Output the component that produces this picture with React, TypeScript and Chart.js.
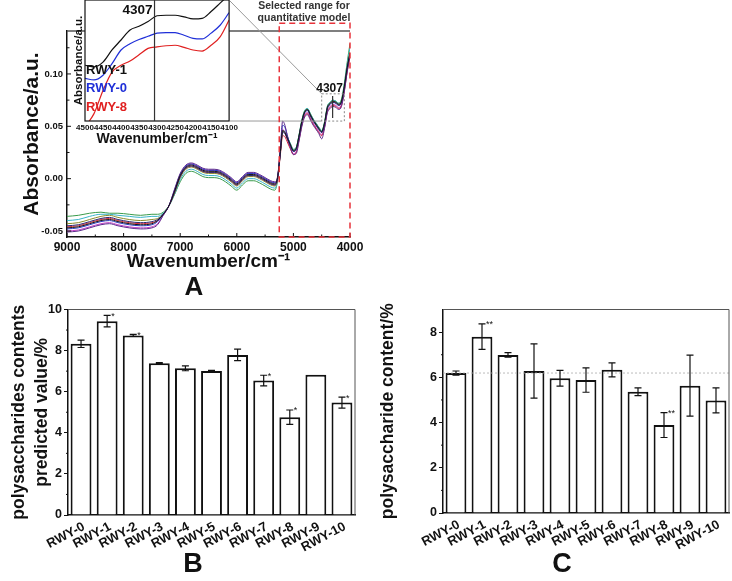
import React, { useEffect, useRef } from 'react';
import { Chart, registerables } from 'chart.js';

Chart.register(...registerables);

const FONT = '"Liberation Sans", Arial, Helvetica, sans-serif';
const INK = '#111111';

// ---------------- Panel A: NIR spectra ----------------
const wavenumbers = [9000, 8800, 8600, 8400, 8250, 8100, 7900, 7700, 7500, 7400, 7300, 7200, 7100, 7000, 6900, 6800, 6700, 6600, 6500, 6400, 6300, 6200, 6100, 6000, 5900, 5800, 5700, 5600, 5500, 5400, 5330, 5280, 5230, 5190, 5150, 5100, 5050, 5000, 4950, 4900, 4850, 4800, 4750, 4700, 4650, 4600, 4550, 4500, 4450, 4400, 4350, 4307, 4250, 4200, 4150, 4100, 4050, 4000];

const spectrumBlack = [-0.047, -0.046, -0.043, -0.040, -0.039, -0.041, -0.043, -0.044, -0.043, -0.040, -0.034, -0.026,
  -0.012, 0.003, 0.011, 0.013, 0.011, 0.008, 0.007, 0.007, 0.006, 0.003, -0.001, -0.005, 0.000, 0.004, 0.004, 0.002, -0.001, -0.004, -0.005,
  0.001, 0.026, 0.046, 0.044, 0.038, 0.032, 0.027, 0.029, 0.041, 0.055, 0.064, 0.066, 0.061, 0.056, 0.052, 0.048, 0.045, 0.053, 0.068, 0.072, 0.074, 0.073, 0.071, 0.074, 0.088, 0.106, 0.120];
const spectrumBlue = [-0.048, -0.047, -0.044, -0.041, -0.040, -0.042, -0.044, -0.045, -0.044, -0.041, -0.034, -0.026,
  -0.011, 0.004, 0.012, 0.014, 0.012, 0.009, 0.008, 0.008, 0.007, 0.004, 0.000, -0.004, 0.001, 0.005, 0.005, 0.003, 0.000, -0.003, -0.004,
  0.001, 0.028, 0.051, 0.049, 0.040, 0.031, 0.026, 0.028, 0.040, 0.054, 0.063, 0.065, 0.060, 0.055, 0.051, 0.047, 0.044, 0.052, 0.067, 0.071, 0.073, 0.072, 0.070, 0.073, 0.087, 0.105, 0.119];
const spectrumRed = [-0.046, -0.045, -0.042, -0.039, -0.038, -0.040, -0.042, -0.043, -0.042, -0.040, -0.034, -0.026,
  -0.013, 0.002, 0.010, 0.012, 0.010, 0.007, 0.006, 0.006, 0.005, 0.002, -0.002, -0.006, -0.001, 0.003, 0.003, 0.001, -0.002, -0.005, -0.006,
  -0.001, 0.023, 0.041, 0.040, 0.034, 0.028, 0.023, 0.025, 0.037, 0.051, 0.060, 0.062, 0.057, 0.052, 0.048, 0.044, 0.041, 0.049, 0.064, 0.068, 0.070, 0.069, 0.067, 0.070, 0.084, 0.102, 0.116];
const spectrumGreen = [-0.036, -0.035, -0.033, -0.032, -0.033, -0.033, -0.034, -0.035, -0.034, -0.034, -0.032, -0.026,
  -0.015, -0.003, 0.005, 0.007, 0.005, 0.002, 0.001, 0.001, 0.000, -0.003, -0.007, -0.011, -0.006, -0.002, -0.002, -0.004, -0.007, -0.010, -0.011,
  -0.002, 0.025, 0.046, 0.045, 0.039, 0.033, 0.028, 0.030, 0.042, 0.056, 0.065, 0.067, 0.062, 0.057, 0.053, 0.049, 0.046, 0.054, 0.069, 0.073, 0.075, 0.074, 0.072, 0.076, 0.091, 0.111, 0.129];
const spectrumMagenta = [-0.050, -0.049, -0.046, -0.043, -0.042, -0.044, -0.046, -0.047, -0.046, -0.043, -0.035, -0.026,
  -0.011, 0.004, 0.012, 0.014, 0.012, 0.009, 0.008, 0.008, 0.007, 0.004, 0.000, -0.004, 0.001, 0.005, 0.005, 0.003, 0.000, -0.003, -0.004,
  0.000, 0.026, 0.047, 0.044, 0.036, 0.029, 0.024, 0.026, 0.038, 0.052, 0.061, 0.063, 0.058, 0.053, 0.049, 0.045, 0.042, 0.050, 0.065, 0.069, 0.071, 0.070, 0.068, 0.071, 0.085, 0.103, 0.118];
const spectrumCyan = [-0.040, -0.039, -0.036, -0.034, -0.034, -0.035, -0.036, -0.037, -0.036, -0.036, -0.033, -0.026,
  -0.015, -0.001, 0.007, 0.009, 0.007, 0.004, 0.003, 0.003, 0.002, -0.001, -0.005, -0.009, -0.004, 0.000, 0.000, -0.002, -0.005, -0.008, -0.009,
  -0.001, 0.025, 0.045, 0.045, 0.039, 0.033, 0.028, 0.030, 0.042, 0.056, 0.065, 0.067, 0.062, 0.057, 0.053, 0.049, 0.046, 0.054, 0.069, 0.073, 0.075, 0.074, 0.072, 0.075, 0.090, 0.109, 0.125];
const spectrumPurple = [-0.051, -0.050, -0.047, -0.044, -0.043, -0.045, -0.047, -0.048, -0.047, -0.044, -0.035, -0.026,
  -0.010, 0.005, 0.013, 0.015, 0.013, 0.010, 0.009, 0.009, 0.008, 0.005, 0.001, -0.003, 0.002, 0.006, 0.006, 0.004, 0.001, -0.002, -0.003,
  0.002, 0.029, 0.055, 0.051, 0.039, 0.029, 0.023, 0.024, 0.036, 0.050, 0.059, 0.061, 0.056, 0.051, 0.047, 0.043, 0.038, 0.048, 0.063, 0.067, 0.069, 0.068, 0.066, 0.069, 0.083, 0.102, 0.118];
const spectrumOlive = [-0.043, -0.042, -0.039, -0.036, -0.035, -0.037, -0.039, -0.040, -0.039, -0.038, -0.034, -0.026,
  -0.014, 0.001, 0.009, 0.011, 0.009, 0.006, 0.005, 0.005, 0.004, 0.001, -0.003, -0.007, -0.002, 0.002, 0.002, 0.000, -0.003, -0.006, -0.007,
  0.000, 0.026, 0.045, 0.044, 0.038, 0.032, 0.027, 0.029, 0.041, 0.055, 0.064, 0.066, 0.061, 0.056, 0.052, 0.048, 0.045, 0.053, 0.068, 0.072, 0.074, 0.073, 0.071, 0.074, 0.088, 0.106, 0.121];
const spectrumNavy = [-0.045, -0.044, -0.041, -0.038, -0.037, -0.039, -0.041, -0.042, -0.041, -0.039, -0.034, -0.026,
  -0.013, 0.002, 0.010, 0.012, 0.010, 0.007, 0.006, 0.006, 0.005, 0.002, -0.002, -0.006, -0.001, 0.003, 0.003, 0.001, -0.002, -0.005, -0.006,
  0.000, 0.025, 0.044, 0.043, 0.037, 0.031, 0.026, 0.028, 0.040, 0.054, 0.063, 0.065, 0.060, 0.055, 0.051, 0.047, 0.044, 0.052, 0.067, 0.071, 0.073, 0.072, 0.070, 0.073, 0.087, 0.105, 0.120];

const spectraList = [spectrumBlack, spectrumPurple, spectrumNavy, spectrumBlue, spectrumRed, spectrumMagenta, spectrumOlive, spectrumCyan, spectrumGreen];
const spectraColors = ['#151515', '#5b2a8c', '#2a2a70', '#2b3cc8', '#d42a3a', '#c43cc4', '#8a8a2a', '#38b4c8', '#3a9a4a'];

const xTicksA = [9000, 8000, 7000, 6000, 5000, 4000];
const xMinorA = [8500, 7500, 6500, 5500, 4500];
const yTicksA = [-0.05, 0, 0.05, 0.1];
const yMinorA = [-0.025, 0.025, 0.075, 0.125];
const selectedRange = [5250, 4000];
const zoomWN = [4500, 4100];
const zoomAbs = [0.055, 0.081];
const markerWN = 4307;

// inset (zoomed region)
const insetWN = [4500, 4475, 4450, 4425, 4400, 4375, 4350, 4325, 4300, 4275, 4250, 4225, 4200, 4175, 4150, 4125, 4100];
const insetRWY1 = [0.0656, 0.0653, 0.0662, 0.0685, 0.0704, 0.0723, 0.0730, 0.0739, 0.0750, 0.0751, 0.0751, 0.0748, 0.0744, 0.0745, 0.0758, 0.0774, 0.0790];
const insetRWY0 = [0.0631, 0.0628, 0.0637, 0.0659, 0.0685, 0.0697, 0.0705, 0.0711, 0.0717, 0.0718, 0.0718, 0.0713, 0.0707, 0.0706, 0.0717, 0.0732, 0.0756];
const insetRWY8 = [0.0539, 0.0564, 0.0608, 0.0643, 0.0656, 0.0664, 0.0676, 0.0688, 0.0691, 0.0693, 0.0694, 0.0690, 0.0685, 0.0683, 0.0694, 0.0710, 0.0742];
const insetLabels = ['RWY-1', 'RWY-0', 'RWY-8'];
const insetColors = ['#111111', '#1f2fd8', '#e02020'];
const insetTicks = [4500, 4450, 4400, 4350, 4300, 4250, 4200, 4150, 4100];

// ---------------- Panels B & C ----------------
const categories = ['RWY-0', 'RWY-1', 'RWY-2', 'RWY-3', 'RWY-4', 'RWY-5', 'RWY-6', 'RWY-7', 'RWY-8', 'RWY-9', 'RWY-10'];
const predictedValues = [8.33, 9.43, 8.74, 7.38, 7.14, 7.01, 7.79, 6.54, 4.76, 6.83, 5.47];
const predictedErrors = [0.18, 0.28, 0.05, 0.03, 0.12, 0.03, 0.28, 0.26, 0.35, 0, 0.27];
const predictedMarks = ['', '*', '*', '', '', '', '', '*', '*', '', '*'];
const measuredValues = [6.19, 7.80, 6.99, 6.28, 5.96, 5.88, 6.33, 5.36, 3.89, 5.63, 4.98];
const measuredErrors = [0.09, 0.56, 0.1, 1.2, 0.35, 0.54, 0.31, 0.17, 0.55, 1.35, 0.55];
const measuredMarks = ['', '**', '', '', '', '', '', '', '**', '', ''];

const INSET = { right: 230, top: 0, bottom: 121 };

const bold = (size: number, lineHeight?: any) => ({ family: FONT, size, weight: 'bold' as const, lineHeight: lineHeight ?? 1.2 });

const panelAPlugin = {
  id: 'panelA',
  afterDraw(chart: any) {
    const { ctx, chartArea: ca, scales } = chart;
    const x = scales.x, y = scales.y;
    ctx.save();
    ctx.strokeStyle = '#555';
    ctx.lineWidth = 1.5;
    ctx.beginPath();
    ctx.moveTo(ca.left, ca.top);
    ctx.lineTo(ca.right, ca.top);
    ctx.stroke();

    ctx.strokeStyle = INK;
    ctx.lineWidth = 1;
    ctx.beginPath();
    xTicksA.forEach(v => { const p = x.getPixelForValue(v); ctx.moveTo(p, ca.bottom); ctx.lineTo(p, ca.bottom - 4); });
    xMinorA.forEach(v => { const p = x.getPixelForValue(v); ctx.moveTo(p, ca.bottom); ctx.lineTo(p, ca.bottom - 2.5); });
    yTicksA.forEach(v => { const p = y.getPixelForValue(v); ctx.moveTo(ca.left, p); ctx.lineTo(ca.left + 4, p); });
    yMinorA.forEach(v => { const p = y.getPixelForValue(v); ctx.moveTo(ca.left, p); ctx.lineTo(ca.left + 2.5, p); });
    ctx.stroke();

    const bx1 = x.getPixelForValue(zoomWN[0]);
    const bx2 = x.getPixelForValue(zoomWN[1]);
    const by1 = y.getPixelForValue(zoomAbs[1]);
    const by2 = y.getPixelForValue(zoomAbs[0]);
    ctx.setLineDash([2, 2]);
    ctx.strokeStyle = '#888';
    ctx.lineWidth = 1;
    ctx.strokeRect(bx1, by1, bx2 - bx1, by2 - by1);
    ctx.setLineDash([]);

    ctx.strokeStyle = '#9a9a9a';
    ctx.beginPath();
    ctx.moveTo(INSET.right, INSET.top + 1);
    ctx.lineTo(bx1, by1);
    ctx.moveTo(INSET.right, INSET.bottom);
    ctx.lineTo(bx1, by2);
    ctx.stroke();

    const mp = x.getPixelForValue(markerWN);
    ctx.strokeStyle = '#333';
    ctx.lineWidth = 1.2;
    ctx.beginPath();
    ctx.moveTo(mp, y.getPixelForValue(0.058));
    ctx.lineTo(mp, y.getPixelForValue(0.079));
    ctx.stroke();
    ctx.font = `bold 12px ${FONT}`;
    ctx.fillStyle = INK;
    ctx.textAlign = 'center';
    ctx.textBaseline = 'middle';
    ctx.fillText(String(markerWN), mp - 3, by1 - 5);

    const rx1 = x.getPixelForValue(selectedRange[0]);
    const rx2 = x.getPixelForValue(selectedRange[1]);
    const ry1 = y.getPixelForValue(0.1485);
    ctx.strokeStyle = '#e8333b';
    ctx.lineWidth = 1.5;
    ctx.setLineDash([6, 4]);
    ctx.strokeRect(rx1, ry1, rx2 - rx1, ca.bottom - ry1);
    ctx.setLineDash([]);

    ctx.font = `bold 10.5px ${FONT}`;
    ctx.fillStyle = '#333';
    ctx.fillText('Selected range for', 304, 6);
    ctx.fillText('quantitative model', 304, 18);

    ctx.font = `bold 26px ${FONT}`;
    ctx.fillStyle = INK;
    ctx.fillText('A', 194, 288);
    ctx.restore();
  },
};

const insetPlugin = {
  id: 'inset',
  beforeDraw(chart: any) {
    const { ctx, chartArea: ca } = chart;
    ctx.save();
    ctx.fillStyle = '#ffffff';
    ctx.fillRect(ca.left, ca.top, ca.right - ca.left, ca.bottom - ca.top);
    ctx.restore();
  },
  afterDraw(chart: any) {
    const { ctx, chartArea: ca, scales } = chart;
    ctx.save();
    ctx.strokeStyle = INK;
    ctx.lineWidth = 1.2;
    ctx.strokeRect(ca.left, ca.top, ca.right - ca.left, ca.bottom - ca.top);
    const mp = scales.x.getPixelForValue(markerWN);
    ctx.strokeStyle = '#333';
    ctx.beginPath();
    ctx.moveTo(mp, ca.top);
    ctx.lineTo(mp, ca.bottom);
    ctx.stroke();
    ctx.font = `bold 13.5px ${FONT}`;
    ctx.fillStyle = INK;
    ctx.textAlign = 'right';
    ctx.textBaseline = 'middle';
    ctx.fillText(String(markerWN), mp - 2, 10);
    ctx.textAlign = 'left';
    ctx.font = `bold 13px ${FONT}`;
    const ys = [70, 88, 107];
    insetLabels.forEach((t, i) => {
      ctx.fillStyle = insetColors[i];
      ctx.fillText(t, ca.left + 1, ys[i]);
    });
    ctx.restore();
  },
};

function barPanelPlugin(values: number[], errors: number[], marks: string[], letter: string, letterX: number, refLine: number | null) {
  return {
    id: 'barPanel' + letter,
    afterDatasetsDraw(chart: any) {
      const { ctx, chartArea: ca, scales } = chart;
      const y = scales.y;
      ctx.save();
      if (refLine !== null) {
        const ry = y.getPixelForValue(refLine);
        ctx.strokeStyle = '#aaa';
        ctx.lineWidth = 0.8;
        ctx.setLineDash([2, 2]);
        ctx.beginPath();
        ctx.moveTo(ca.left, ry);
        ctx.lineTo(ca.right, ry);
        ctx.stroke();
        ctx.setLineDash([]);
      }
      const meta = chart.getDatasetMeta(0);
      ctx.strokeStyle = INK;
      ctx.lineWidth = 1.2;
      meta.data.forEach((el: any, i: number) => {
        const e = errors[i];
        const cx = el.x;
        const yt = y.getPixelForValue(values[i] + e);
        const yb = y.getPixelForValue(values[i] - e);
        if (e > 0) {
          ctx.beginPath();
          ctx.moveTo(cx, yt); ctx.lineTo(cx, yb);
          ctx.moveTo(cx - 3.5, yt); ctx.lineTo(cx + 3.5, yt);
          ctx.moveTo(cx - 3.5, yb); ctx.lineTo(cx + 3.5, yb);
          ctx.stroke();
        }
        if (marks[i]) {
          ctx.font = `9px ${FONT}`;
          ctx.fillStyle = INK;
          ctx.textAlign = 'left';
          ctx.textBaseline = 'middle';
          ctx.fillText(marks[i], cx + 4, yt + 1);
        }
      });
      ctx.restore();
    },
    afterDraw(chart: any) {
      const { ctx, chartArea: ca, scales } = chart;
      const y = scales.y;
      ctx.save();
      ctx.strokeStyle = '#555';
      ctx.lineWidth = 1;
      ctx.beginPath();
      ctx.moveTo(ca.left, ca.top);
      ctx.lineTo(ca.right, ca.top);
      ctx.lineTo(ca.right, ca.bottom);
      ctx.stroke();
      ctx.strokeStyle = INK;
      ctx.beginPath();
      for (let v = 1; v < y.max; v += 2) {
        const p = y.getPixelForValue(v);
        ctx.moveTo(ca.left, p);
        ctx.lineTo(ca.left - 2, p);
      }
      ctx.stroke();
      ctx.font = `bold 27px ${FONT}`;
      ctx.fillStyle = INK;
      ctx.textAlign = 'center';
      ctx.textBaseline = 'middle';
      ctx.fillText(letter, letterX, 265);
      ctx.restore();
    },
  };
}

function configA(): any {
  return {
    type: 'line',
    data: {
      datasets: spectraList.map((s, k) => ({
        data: wavenumbers.map((w, i) => ({ x: w, y: s[i] })),
        borderColor: spectraColors[k],
        borderWidth: 1,
        pointRadius: 0,
        fill: false,
        cubicInterpolationMode: 'monotone',
      })),
    },
    options: {
      responsive: false,
      animation: false,
      layout: { padding: { top: 31, right: 22, bottom: 0, left: 0 } },
      plugins: { legend: { display: false }, tooltip: { enabled: false } },
      scales: {
        x: {
          type: 'linear', reverse: true, min: 4000, max: 9000,
          afterFit: (s: any) => { s.height = 63; },
          afterBuildTicks: (s: any) => { s.ticks = xTicksA.map(v => ({ value: v })); },
          grid: { display: true, drawOnChartArea: false, drawTicks: false },
          border: { display: true, color: INK, width: 1.5 },
          ticks: { padding: 3, maxRotation: 0, autoSkip: false, color: INK, font: bold(12), callback: (v: any) => String(v) },
          title: { display: true, text: 'Wavenumber/cm⁻¹', color: INK, font: bold(19), padding: { top: 0, bottom: 27 } },
        },
        y: {
          type: 'linear', min: -0.0557, max: 0.141,
          afterFit: (s: any) => { s.width = 67; },
          afterBuildTicks: (s: any) => { s.ticks = yTicksA.map(v => ({ value: v })); },
          grid: { display: true, drawOnChartArea: false, drawTicks: false },
          border: { display: true, color: INK, width: 1.5 },
          ticks: { padding: 4, color: INK, font: bold(9.5), callback: (v: any) => Number(v).toFixed(2) },
          title: { display: true, text: 'Absorbance/a.u.', color: INK, font: bold(21), padding: { top: 20, bottom: 0 } },
        },
      },
    },
    plugins: [panelAPlugin],
  };
}

function configInset(): any {
  const series = [insetRWY1, insetRWY0, insetRWY8];
  return {
    type: 'line',
    data: {
      datasets: series.map((s, k) => ({
        data: insetWN.map((w, i) => ({ x: w, y: s[i] })),
        borderColor: insetColors[k],
        borderWidth: 1.2,
        pointRadius: 0,
        fill: false,
        cubicInterpolationMode: 'monotone',
      })),
    },
    options: {
      responsive: false,
      animation: false,
      layout: { padding: { top: 0, right: 10, bottom: 0, left: 0 } },
      plugins: { legend: { display: false }, tooltip: { enabled: false } },
      scales: {
        x: {
          type: 'linear', reverse: true, min: 4100, max: 4500,
          afterFit: (s: any) => { s.height = 29; },
          afterBuildTicks: (s: any) => { s.ticks = insetTicks.map(v => ({ value: v })); },
          grid: { display: false, drawTicks: false },
          border: { display: false },
          ticks: { padding: 2, maxRotation: 0, minRotation: 0, autoSkip: false, color: INK, font: bold(8), callback: (v: any) => String(v) },
          title: { display: true, text: 'Wavenumber/cm⁻¹', color: INK, font: bold(14), padding: { top: 0, bottom: 2 } },
        },
        y: {
          type: 'linear', min: 0.055, max: 0.078,
          afterFit: (s: any) => { s.width = 25; },
          grid: { display: false, drawTicks: false },
          border: { display: false },
          ticks: { display: false },
          title: { display: true, text: 'Absorbance/a.u.', color: INK, font: bold(11.5), padding: { top: 12, bottom: 0 } },
        },
      },
    },
    plugins: [insetPlugin],
  };
}

function configBar(values: number[], errors: number[], marks: string[], opts: any): any {
  return {
    type: 'bar',
    data: {
      labels: categories,
      datasets: [{
        data: values,
        backgroundColor: '#ffffff',
        borderColor: INK,
        borderWidth: 2,
        barPercentage: 0.8,
        categoryPercentage: 1,
      }],
    },
    options: {
      responsive: false,
      animation: false,
      layout: { padding: { top: opts.top, right: opts.right, bottom: 0, left: 0 } },
      plugins: { legend: { display: false }, tooltip: { enabled: false } },
      scales: {
        x: {
          afterFit: (s: any) => { s.height = opts.xHeight; },
          grid: { display: true, drawOnChartArea: false, drawTicks: false },
          border: { display: true, color: INK, width: 1.5 },
          ticks: { autoSkip: false, minRotation: 28, maxRotation: 28, padding: 4, labelOffset: 3, color: INK, font: bold(13) },
        },
        y: {
          min: 0, max: opts.yMax,
          afterFit: (s: any) => { s.width = opts.yWidth; },
          afterBuildTicks: (s: any) => { s.ticks = s.ticks.filter((t: any) => t.value % 2 === 0); },
          grid: { display: true, drawOnChartArea: false, drawTicks: true, tickLength: 4, color: INK },
          border: { display: true, color: INK, width: 1.5 },
          ticks: { stepSize: 2, padding: 2, color: INK, font: bold(12.5) },
          title: { display: true, text: opts.title, color: INK, font: bold(17.5, opts.titleLH), padding: { top: opts.titlePad, bottom: 0 } },
        },
      },
    },
    plugins: [barPanelPlugin(values, errors, marks, opts.letter, opts.letterX, opts.refLine)],
  };
}

function ChartCanvas({ left, top, width, height, make }: any) {
  const ref = useRef<HTMLCanvasElement | null>(null);
  useEffect(() => {
    const chart = new Chart(ref.current as HTMLCanvasElement, make());
    return () => chart.destroy();
  }, []);
  return (
    <canvas
      ref={ref}
      width={width}
      height={height}
      style={{ position: 'absolute', left, top, width, height }}
    />
  );
}

export default function App() {
  return (
    <div style={{ position: 'absolute', left: 0, top: 0, width: 732, height: 581, background: '#ffffff', overflow: 'hidden' }}>
      <ChartCanvas left={0} top={0} width={372} height={300} make={configA} />
      <ChartCanvas left={60} top={0} width={180} height={150} make={configInset} />
      <ChartCanvas
        left={0} top={300} width={362} height={281}
        make={() => configBar(predictedValues, predictedErrors, predictedMarks, {
          top: 9, right: 7, xHeight: 66, yWidth: 68, yMax: 10,
          title: ['polysaccharides contents', 'predicted value/%'], titleLH: '23px', titlePad: 7.5,
          letter: 'B', letterX: 193, refLine: null,
        })}
      />
      <ChartCanvas
        left={370} top={300} width={362} height={281}
        make={() => configBar(measuredValues, measuredErrors, measuredMarks, {
          top: 7, right: 3, xHeight: 68, yWidth: 73, yMax: 9,
          title: 'polysaccharide content/%', titleLH: '21px', titlePad: 7.5,
          letter: 'C', letterX: 192, refLine: measuredValues[0],
        })}
      />
    </div>
  );
}
